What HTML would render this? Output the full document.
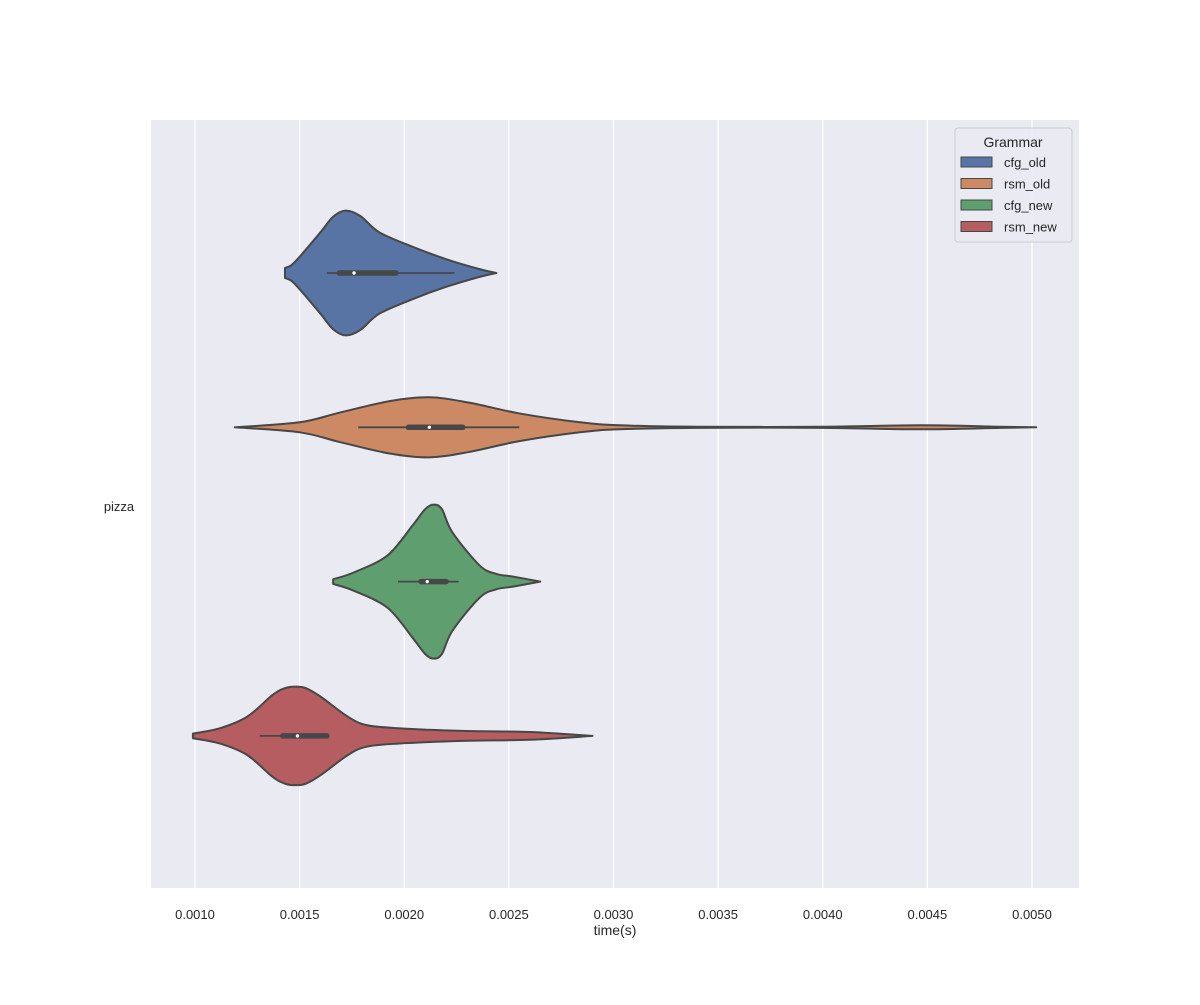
<!DOCTYPE html>
<html><head><meta charset="utf-8"><style>
body{margin:0;background:#fff;}
svg text{font-family:"Liberation Sans",sans-serif;fill:#262626;}
</style></head><body>
<svg id="chart" width="1200" height="1000" xmlns="http://www.w3.org/2000/svg">
<rect x="151" y="120" width="928" height="768" fill="#eaeaf2"/>
<g id="grid"></g>
<g id="violins"></g>
<g id="xticks"></g>
<text x="119" y="511" text-anchor="middle" font-size="13">pizza</text>
<text x="615" y="935" text-anchor="middle" font-size="14">time(s)</text>
<g>
<rect x="955" y="128" width="117" height="114" rx="3" fill="#eaeaf2" fill-opacity="0.8" stroke="#cccccc"/>
<text x="1013" y="147" text-anchor="middle" font-size="14">Grammar</text>
<g id="legend-entries"></g>
</g>
</svg>
<script>
const categories = ["cfg_old","rsm_old","cfg_new","rsm_new"];
const colors = ["#5774a4","#cc8963","#5f9e6e","#b55d60"];
const xTicks = [0.0010,0.0015,0.0020,0.0025,0.0030,0.0035,0.0040,0.0045,0.0050];
const cfgOldT = [0.00143,0.00146,0.00150,0.00160,0.00166,0.00172,0.00179,0.00188,0.00204,0.00220,0.00236,0.00244];
const cfgOldD = [0.065,0.10,0.21,0.53,0.73,0.81,0.74,0.53,0.34,0.18,0.05,0];
const rsmOldT = [0.00119,0.00150,0.00169,0.00193,0.00212,0.00231,0.00255,0.00284,0.00303,0.00340,0.00399,0.00447,0.00485,0.00502];
const rsmOldD = [0,0.065,0.19,0.34,0.39,0.32,0.18,0.065,0.026,0.007,0.007,0.026,0.007,0];
const cfgNewT = [0.00166,0.00176,0.00192,0.00204,0.00210,0.00214,0.00218,0.00223,0.00236,0.00244,0.00252,0.00265];
const cfgNewD = [0.03,0.12,0.34,0.73,0.94,1.0,0.94,0.64,0.21,0.10,0.065,0];
const rsmNewT = [0.00099,0.00112,0.00125,0.00137,0.00143,0.00148,0.00153,0.00160,0.00173,0.00182,0.00197,0.00228,0.00260,0.00290];
const rsmNewD = [0.03,0.10,0.25,0.53,0.62,0.64,0.62,0.51,0.25,0.14,0.10,0.065,0.05,0];
const quartiles = [[0.00169,0.00176,0.00196],[0.00202,0.00212,0.00228],[0.00208,0.00211,0.00220],[0.00142,0.00149,0.00163]];
const whiskers = [[0.00163,0.00224],[0.00178,0.00255],[0.00197,0.00226],[0.00131,0.00163]];
const seriesT=[cfgOldT,rsmOldT,cfgNewT,rsmNewT], seriesD=[cfgOldD,rsmOldD,cfgNewD,rsmNewD];
const NS="http://www.w3.org/2000/svg";
const xs=t=>195+(t-0.001)*(1032-195)/0.004;
const yc=i=>273+i*154.3;
const dScale=77;
function mk(tag,attrs,parent){const e=document.createElementNS(NS,tag);for(const k in attrs)e.setAttribute(k,attrs[k]);parent.appendChild(e);return e;}
const grid=document.getElementById('grid'),xt=document.getElementById('xticks');
xTicks.forEach(t=>{
 const l=mk('line',{x1:xs(t),x2:xs(t),y1:120,y2:888,stroke:'#fff','stroke-width':1.3},grid);
 
 
 const tx=mk('text',{x:xs(t),y:919,'text-anchor':'middle','font-size':13},xt);
 tx.textContent=t.toFixed(4);
 
 
});
function smooth(pts){let d='';for(let i=0;i<pts.length-1;i++){const p0=pts[Math.max(i-1,0)],p1=pts[i],p2=pts[i+1],p3=pts[Math.min(i+2,pts.length-1)];
 const c1=[p1[0]+(p2[0]-p0[0])/6,p1[1]+(p2[1]-p0[1])/6],c2=[p2[0]-(p3[0]-p1[0])/6,p2[1]-(p3[1]-p1[1])/6];
 d+=` C${c1[0]},${c1[1]} ${c2[0]},${c2[1]} ${p2[0]},${p2[1]}`;}return d;}
const vg=document.getElementById('violins');
categories.forEach((c,i)=>{
 const T=seriesT[i],D=seriesD[i],y=yc(i);
 const top=T.map((t,k)=>[xs(t),y-D[k]*dScale]);
 const bot=T.map((t,k)=>[xs(t),y+D[k]*dScale]).reverse();
 let d=`M${top[0][0]},${top[0][1]}`+smooth(top)+` L${bot[0][0]},${bot[0][1]}`+smooth(bot)+'Z';
 const p=mk('path',{d:d,fill:colors[i],stroke:'#474747','stroke-width':2,'stroke-linejoin':'round'},vg);
 
 
 const w=mk('line',{x1:xs(whiskers[i][0]),x2:xs(whiskers[i][1]),y1:y,y2:y,stroke:'#474747','stroke-width':1.8},vg);
 
 
 const b=mk('line',{x1:xs(quartiles[i][0]),x2:xs(quartiles[i][2]),y1:y,y2:y,stroke:'#474747','stroke-width':5.5,'stroke-linecap':'round'},vg);
 
 
 const m=mk('circle',{cx:xs(quartiles[i][1]),cy:y,r:1.7,fill:'#fff'},vg);
 
 
});
const lg=document.getElementById('legend-entries');
categories.forEach((c,i)=>{
 const y=162+i*21.5;
 const r=mk('rect',{x:961,y:y-5,width:31,height:10,fill:colors[i],stroke:'#474747','stroke-width':1},lg);
 
 
 const t=mk('text',{x:1004,y:y+5,'font-size':13},lg);
 t.textContent=c;
 
 
});
</script>
</body></html>
